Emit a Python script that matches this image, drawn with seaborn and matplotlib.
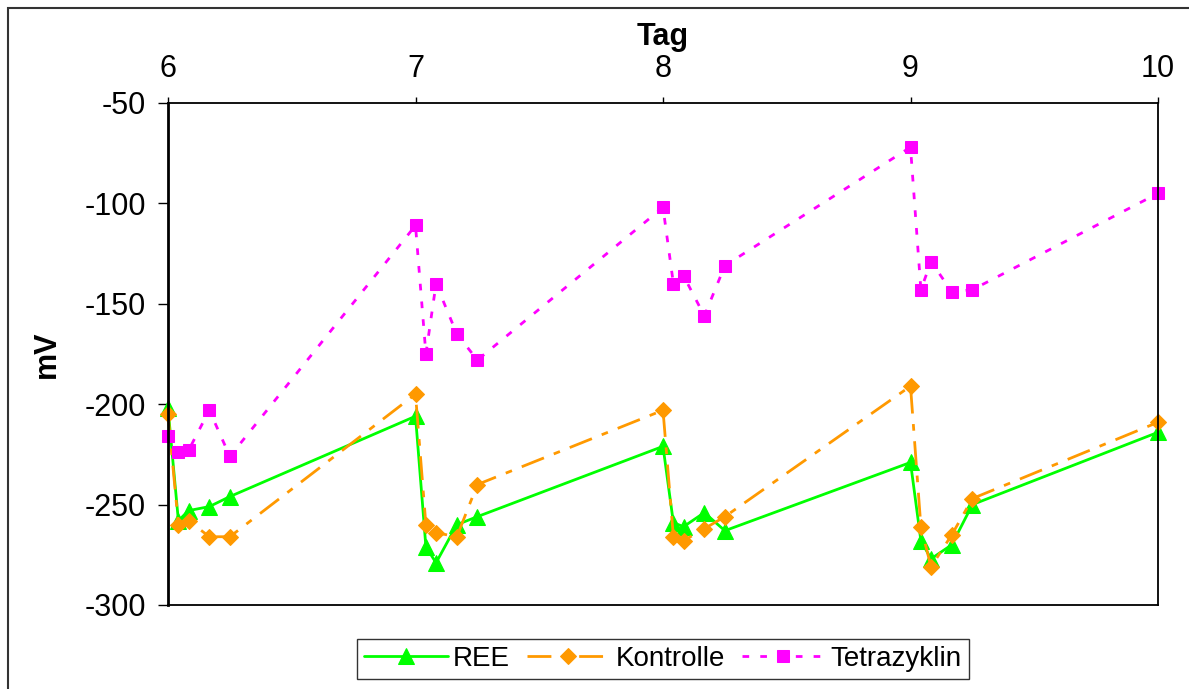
import numpy as np
import pandas as pd
import matplotlib
matplotlib.use("Agg")
import matplotlib.pyplot as plt
import seaborn as sns
from matplotlib.patches import Rectangle

# Messzeitpunkte (Tag) und Redoxpotential (mV)
tag = [6.0, 6.042, 6.083, 6.167, 6.25,
       7.0, 7.042, 7.083, 7.167, 7.25,
       8.0, 8.042, 8.083, 8.167, 8.25,
       9.0, 9.042, 9.083, 9.167, 9.25,
       10.0]
ree = [-202, -258, -253, -251, -246,
       -206, -271, -279, -260, -256,
       -221, -259, -261, -254, -263,
       -229, -268, -277, -270, -250,
       -214]
kontrolle = [-205, -260, -258, -266, -266,
             -195, -260, -264, -266, -240,
             -203, -266, -268, -262, -256,
             -191, -261, -281, -265, -247,
             -209]
tetrazyklin = [-216, -224, -223, -203, -226,
               -111, -175, -140, -165, -178,
               -102, -140, -136, -156, -131,
               -72, -143, -129, -144, -143,
               -95]

serien = ["REE", "Kontrolle", "Tetrazyklin"]
x_ticks = [6, 7, 8, 9, 10]
y_ticks = [-50, -100, -150, -200, -250, -300]

df = pd.DataFrame({
    "Tag": tag * 3,
    "mV": ree + kontrolle + tetrazyklin,
    "Serie": np.repeat(serien, len(tag)),
})

sns.set_style("white")
plt.rcParams["font.family"] = ["Liberation Sans", "DejaVu Sans"]
plt.rcParams["axes.unicode_minus"] = False
for key in ["text.color", "axes.labelcolor", "xtick.color", "ytick.color"]:
    plt.rcParams[key] = "black"

fig = plt.figure(figsize=(11.89, 6.89), dpi=100)
ax = fig.add_axes([168 / 1189, 1 - 605 / 689, (1158 - 168) / 1189, (605 - 103) / 689])

stile = {
    "REE": dict(color="#00FF00", marker="^", markersize=11, dashes=None),
    "Kontrolle": dict(color="#FF9900", marker="D", markersize=8, dashes=(8.6, 3.8, 2.4, 3.8)),
    "Tetrazyklin": dict(color="#FF00FF", marker="s", markersize=8.3, dashes=(2.4, 4.0)),
}

for name in serien:
    st = stile[name]
    sub = df[df["Serie"] == name]
    line_kw = dict(color=st["color"], marker=st["marker"], markersize=st["markersize"],
                   markeredgecolor=st["color"], linewidth=2, label=name, clip_on=False)
    if st["dashes"] is not None:
        line_kw["dashes"] = st["dashes"]
    sns.lineplot(data=sub, x="Tag", y="mV", ax=ax, sort=False, estimator=None, **line_kw)

ax.set_xlim(6, 10)
ax.set_ylim(-300, -50)
ax.set_xticks(x_ticks)
ax.set_yticks(y_ticks)
ax.xaxis.tick_top()
ax.xaxis.set_label_position("top")
ax.set_xlabel("Tag", fontsize=22, fontweight="bold", labelpad=6)
ax.set_ylabel("mV", fontsize=22, fontweight="bold", labelpad=16)
ax.tick_params(axis="x", direction="out", length=4, width=1, pad=10, labelsize=22, top=True, bottom=False)
ax.tick_params(axis="y", direction="out", length=7, width=1, pad=9, labelsize=22, left=True)

for s in ["top", "right", "bottom"]:
    ax.spines[s].set_color("black")
    ax.spines[s].set_linewidth(1.3)
ax.spines["left"].set_color("black")
ax.spines["left"].set_linewidth(2)

ax.legend(loc="upper center", bbox_to_anchor=(0.5, -0.04), ncol=3, fontsize=20,
          frameon=True, fancybox=False, edgecolor="black", handlelength=3,
          handletextpad=0.2, columnspacing=0.6, borderpad=0.25)
ax.get_legend().get_frame().set_linewidth(1)

# Rahmen um das Diagramm
fig.patches.append(Rectangle((8 / 1189, -0.1), 1.2, 1.1 - 8 / 689, transform=fig.transFigure,
                             fill=False, edgecolor="#333333", linewidth=1.5))

fig.savefig("out.png", dpi=100)
